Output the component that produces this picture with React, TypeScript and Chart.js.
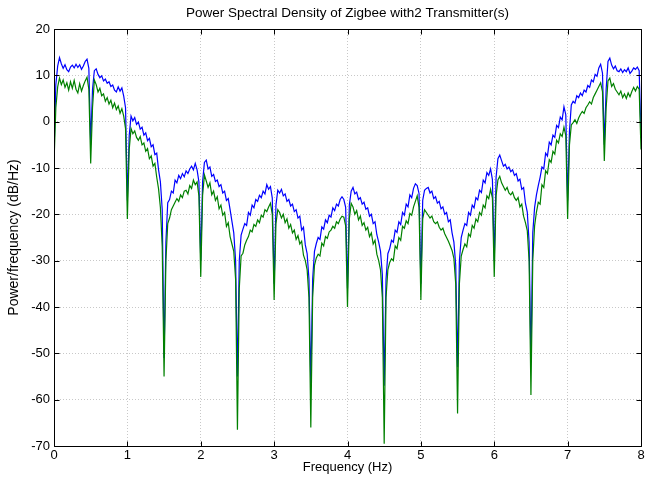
import React, { useEffect, useRef } from "react";
import { Chart, registerables } from "chart.js";

Chart.register(...registerables);

const TITLE = "Power Spectral Density of Zigbee with2 Transmitter(s)";
const X_LABEL = "Frequency (Hz)";
const Y_LABEL = "Power/frequency (dB/Hz)";
const FREQ_STEP = 0.025;
const X_MIN = 0;
const X_MAX = 8;
const Y_MIN = -70;
const Y_MAX = 20;

// Transmitter 1 (blue), dB/Hz, sampled every FREQ_STEP Hz from 0 to 8 Hz
const BLUE_PSD = [
  -7,
  8, 12, 13.8, 12.5, 11.5, 12.3, 11.2, 10.8, 11.8, 12.2, 11.6, 12.4, 11.7, 12.3, 11.3, 12.0, 13.0, 13.5, 11.5,
  -5,
  7, 11.0, 11.4, 10.2, 9.5, 9.9, 8.8, 9.2, 8.3, 8.6, 7.6, 7.9, 6.8, 6.4, 7.5, 6.6, 7.3, 5.5, 3.0,
  -17,
  -3, 1.2, 0.2, 0.9, -0.6, -0.1, -1.6, -1.2, -2.9, -2.4, -4.1, -3.6, -5.4, -5.0, -7.1, -6.8, -10.4, -13, -19,
  -51,
  -26, -17.5, -16.8, -15.0, -15.4, -12.6, -13.2, -11.6, -12.3, -11.2, -11.9, -10.6, -11.2, -10.2, -9.6, -10.4, -9.0, -10.4, -13,
  -30,
  -13, -8.8, -8.3, -10.2, -9.8, -11.8, -11.4, -12.9, -12.6, -14.0, -13.6, -15.4, -15.0, -17.0, -16.6, -19.0, -21.5, -24, -30,
  -55,
  -30, -24.5, -23.2, -22, -22.4, -19.6, -20.2, -18.0, -18.6, -16.8, -17.2, -15.9, -16.4, -15.0, -15.6, -13.6, -14.6, -14.0, -16.5,
  -35,
  -18, -14.8, -15.4, -14.6, -16.0, -15.6, -17.2, -16.8, -18.2, -17.8, -19.4, -19.0, -20.8, -20.4, -23.4, -22.8, -26.6, -28.5, -34,
  -57,
  -34, -28, -26.3, -25, -25.4, -22.7, -23.2, -21.2, -21.8, -20.2, -20.6, -18.6, -19.2, -17.8, -18.2, -16.8, -16.2, -16.8, -18.5,
  -36,
  -18, -15.0, -14.2, -15.6, -15.2, -16.8, -16.4, -17.8, -17.4, -18.9, -18.6, -20.4, -20.0, -22.0, -21.6, -24.4, -26.0, -28.0, -33,
  -57,
  -34, -28.5, -27.4, -25.6, -26.0, -23.4, -23.9, -21.6, -22.2, -19.6, -20.2, -17.8, -18.4, -15.8, -16.4, -14.4, -13.4, -13.8, -15.5,
  -35,
  -17, -14.8, -14.4, -14.2, -15.4, -15.0, -16.6, -16.2, -17.6, -17.2, -18.8, -18.4, -20.0, -19.6, -21.6, -21.2, -24.0, -26.0, -31,
  -53,
  -30, -25, -23.4, -22.0, -22.4, -19.6, -20.2, -18.0, -18.6, -16.4, -16.9, -14.8, -15.3, -12.6, -13.2, -11.0, -11.6, -10.2, -12.5,
  -30,
  -12, -8.0, -7.2, -8.4, -9.6, -9.2, -10.2, -9.8, -10.8, -10.4, -11.6, -11.2, -12.8, -12.4, -14.6, -14.2, -17.6, -19.5, -26,
  -52,
  -24, -18.5, -15.8, -13.8, -12.0, -9.8, -10.2, -6.8, -7.4, -4.4, -5.0, -2.9, -3.4, -0.8, -1.3, 1.0, 0.4, 3.2, 1.5,
  -17,
  -2, 3.6, 4.4, 4.0, 5.6, 5.2, 6.2, 5.6, 6.8, 6.4, 7.8, 7.4, 9.0, 8.6, 10.2, 9.8, 11.6, 12.4, 10.5,
  -5,
  7, 13.0, 13.7, 12.2, 11.4, 12.0, 11.0, 10.8, 11.4, 10.6, 11.2, 10.8, 11.6, 10.4, 10.9, 11.6, 11.3, 11.8, 11.0,
  -3,
];

// Transmitter 2 (green), dB/Hz, same frequency grid
const GREEN_PSD = [
  -9,
  3, 7.5, 9.4, 8.0, 9.0, 7.4, 8.4, 6.8, 8.6, 7.2, 8.9, 7.0, 6.2, 8.2, 6.6, 7.8, 8.8, 9.6, 7.0,
  -9,
  3, 9.0, 8.0, 6.4, 7.2, 5.6, 6.0, 4.4, 5.2, 3.8, 4.6, 3.0, 4.0, 2.6, 3.4, 1.8, 2.8, 1.2, -1.5,
  -21,
  -6, -1.5, -2.6, -2.0, -3.4, -4.0, -3.2, -5.0, -4.6, -6.4, -5.8, -8.0, -7.4, -9.6, -9.0, -12.0, -14.5, -18.5, -27,
  -55,
  -30, -22, -20.8, -19.0, -18.2, -17.4, -16.6, -17.2, -15.8, -16.4, -15.0, -14.8, -15.6, -13.8, -14.4, -12.6, -13.6, -13.0, -16,
  -33.5,
  -16, -11.5, -12.8, -14.2, -13.2, -15.8, -15.0, -17.0, -16.2, -18.8, -18.0, -20.2, -19.6, -22.6, -21.8, -24.8, -26.4, -28.0, -34,
  -66.5,
  -36, -29, -28.4, -26.6, -25.6, -24.8, -23.4, -23.8, -22.2, -22.6, -21.2, -21.8, -20.2, -20.6, -19.0, -19.4, -18.4, -17.6, -20,
  -38.5,
  -22, -19.0, -19.6, -20.8, -20.0, -21.8, -21.0, -23.0, -22.2, -24.0, -23.4, -25.4, -24.6, -26.4, -25.8, -28.8, -30.0, -32.0, -38,
  -66,
  -38, -31, -29.4, -28.6, -29.0, -26.2, -26.8, -24.8, -25.2, -23.8, -23.4, -22.6, -23.0, -21.6, -22.0, -21.0, -20.4, -20.6, -22.5,
  -40,
  -21, -17.6, -18.4, -20.0, -19.2, -21.2, -20.4, -22.4, -21.8, -23.4, -22.8, -24.8, -24.0, -26.4, -25.6, -28.6, -30.0, -32.0, -38,
  -69.5,
  -38, -32, -30.4, -29.6, -30.0, -26.8, -27.4, -25.0, -25.6, -22.6, -23.0, -21.4, -22.0, -19.8, -20.2, -18.4, -17.2, -16.0, -18.5,
  -38.5,
  -21, -19.0, -19.6, -20.2, -20.8, -20.4, -21.6, -22.0, -21.6, -22.8, -23.4, -23.0, -24.2, -25.0, -25.8, -26.8, -27.8, -29.5, -35,
  -63,
  -35, -29, -27.6, -26.4, -27.0, -24.2, -24.8, -22.4, -23.0, -21.0, -21.6, -19.6, -20.2, -18.0, -18.6, -16.0, -16.6, -14.6, -16.5,
  -33.5,
  -16, -12.6, -11.8, -13.2, -14.0, -14.8, -14.2, -15.4, -15.8, -15.2, -16.4, -17.0, -16.4, -18.4, -17.8, -20.4, -21.8, -23.5, -30,
  -59,
  -30, -22.5, -19.5, -17.4, -17.8, -13.6, -14.2, -10.6, -11.2, -8.2, -8.8, -6.4, -7.0, -4.0, -4.6, -2.6, -3.2, -1.2, -3.0,
  -21,
  -5, -0.7, -0.2, 0.4, -0.4, 0.8, 1.6, 2.2, 1.8, 3.0, 3.6, 4.3, 3.8, 5.2, 6.0, 6.8, 7.6, 8.4, 6.5,
  -8.5,
  3, 8.8, 9.4, 7.6, 8.2, 7.0, 6.4, 5.8, 6.6, 5.2, 6.0, 5.0, 6.2, 5.4, 6.5, 7.4, 6.6, 7.6, 7.0,
  -6,
];

const FONT = "'Liberation Sans', Arial, Helvetica, sans-serif";
const FONT_SIZE = 13;
const TITLE_SIZE = 13.5;
const YLABEL_SIZE = 14;

const boxPlugin = {
  id: "matlabBox",
  afterDraw(chart: any) {
    const { ctx, chartArea } = chart;
    const { left, right, top, bottom } = chartArea;
    const xs = chart.scales.x;
    const ys = chart.scales.y;
    const L = Math.round(left) + 0.5;
    const R = Math.round(right) + 0.5;
    const T = Math.round(top) + 0.5;
    const B = Math.round(bottom) + 0.5;
    const TICK = 5;
    ctx.save();
    ctx.strokeStyle = "#000";
    ctx.lineWidth = 1;
    ctx.beginPath();
    ctx.rect(L, T, R - L, B - T);
    xs.ticks.forEach((t: any) => {
      const px = Math.round(xs.getPixelForValue(t.value)) + 0.5;
      ctx.moveTo(px, B);
      ctx.lineTo(px, B - TICK);
      ctx.moveTo(px, T);
      ctx.lineTo(px, T + TICK);
    });
    ys.ticks.forEach((t: any) => {
      const py = Math.round(ys.getPixelForValue(t.value)) + 0.5;
      ctx.moveTo(L, py);
      ctx.lineTo(L + TICK, py);
      ctx.moveTo(R, py);
      ctx.lineTo(R - TICK, py);
    });
    ctx.stroke();
    // title centred over the axes box, as MATLAB does
    ctx.fillStyle = "#000";
    ctx.font = `${TITLE_SIZE}px ${FONT}`;
    ctx.textAlign = "center";
    ctx.textBaseline = "middle";
    ctx.fillText(TITLE, (left + right) / 2, 13);
    ctx.restore();
  },
};

export default function App() {
  const canvasRef = useRef<HTMLCanvasElement | null>(null);

  useEffect(() => {
    const canvas = canvasRef.current;
    if (!canvas) return;
    const toPoints = (arr: number[]) =>
      arr.map((v, i) => ({ x: i * FREQ_STEP, y: v }));

    const chart = new Chart(canvas, {
      type: "line",
      data: {
        datasets: [
          {
            label: "Transmitter 1",
            data: toPoints(BLUE_PSD),
            borderColor: "#0000ff",
            borderWidth: 1.2,
            pointRadius: 0,
            fill: false,
            tension: 0,
            order: 2,
          },
          {
            label: "Transmitter 2",
            data: toPoints(GREEN_PSD),
            borderColor: "#008000",
            borderWidth: 1.2,
            pointRadius: 0,
            fill: false,
            tension: 0,
            order: 1,
          },
        ],
      },
      plugins: [boxPlugin],
      options: {
        animation: false,
        responsive: false,
        devicePixelRatio: 1,
        parsing: false as any,
        normalized: true,
        layout: { padding: { left: 0, right: 7, top: 29, bottom: 0 } },
        plugins: {
          legend: { display: false },
          tooltip: { enabled: false },
          title: { display: false },
        },
        scales: {
          x: {
            type: "linear",
            min: X_MIN,
            max: X_MAX,
            ticks: {
              stepSize: 1,
              color: "#000",
              font: { family: FONT, size: FONT_SIZE },
              padding: 2,
              maxRotation: 0,
            },
            grid: { color: "#c8c8c8", drawTicks: false, lineWidth: 1 },
            border: { display: false, dash: [1, 2] },
            title: {
              display: true,
              text: X_LABEL,
              color: "#000",
              font: { family: FONT, size: FONT_SIZE },
              padding: { top: 0, bottom: 4 },
            },
            afterFit(scale: any) {
              scale.height = 33;
            },
          },
          y: {
            type: "linear",
            min: Y_MIN,
            max: Y_MAX,
            ticks: {
              stepSize: 10,
              color: "#000",
              font: { family: FONT, size: FONT_SIZE },
              padding: 4,
            },
            grid: { color: "#c8c8c8", drawTicks: false, lineWidth: 1 },
            border: { display: false, dash: [1, 2] },
            title: {
              display: true,
              text: Y_LABEL,
              color: "#000",
              font: { family: FONT, size: YLABEL_SIZE },
              padding: { top: 6, bottom: 0 },
            },
            afterFit(scale: any) {
              scale.width = 54;
            },
          },
        },
      },
    });
    return () => chart.destroy();
  }, []);

  return (
    <div
      style={{
        position: "fixed",
        left: 0,
        top: 0,
        width: 648,
        height: 479,
        background: "#fff",
      }}
    >
      <canvas
        ref={canvasRef}
        width={648}
        height={479}
        style={{ width: 648, height: 479, display: "block" }}
      />
    </div>
  );
}
